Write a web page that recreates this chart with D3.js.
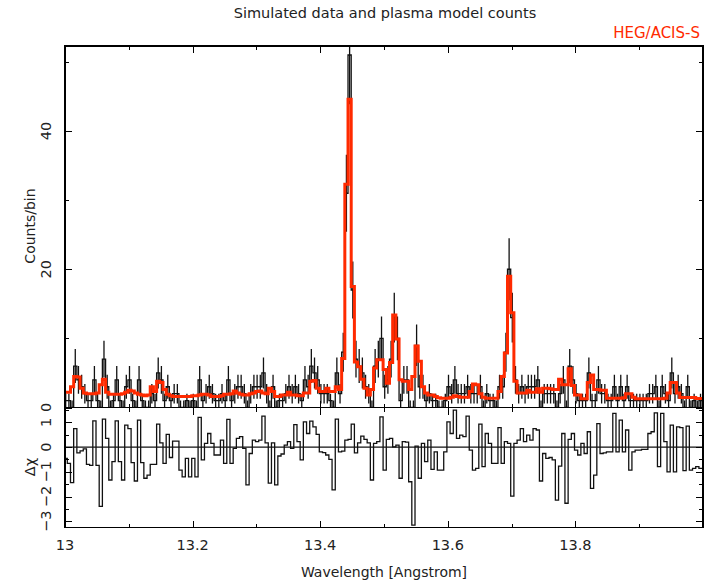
<!DOCTYPE html>
<html lang="en">
<head>
<meta charset="UTF-8">
<title>Simulated data and plasma model counts</title>
<script src="https://cdnjs.cloudflare.com/ajax/libs/d3/7.8.5/d3.min.js"></script>
<style>
  body { margin: 0; background: #fff; }
  svg text { font-family: "DejaVu Sans", sans-serif; fill: #222; }
  .tick line, .frame { stroke: #000; shape-rendering: crispEdges; }
</style>
</head>
<body>
<svg width="710" height="583"></svg>
<script>
// HEG bins: 0.005 A wide, first bin starts just left of 13.0
const binStart = 12.9986, binWidth = 0.005;

// counts per bin (data)
const counts = [
  1, 1, 0, 6, 4, 3, 2, 1, 1, 4,
  1, 0, 7, 3, 0, 1, 4, 1, 0, 3,
  4, 1, 0, 4, 1, 0, 0, 2, 1, 5,
  4, 1, 3, 1, 2, 2, 0, 0, 1, 0,
  1, 0, 4, 1, 2, 3, 2, 1, 1, 2,
  1, 4, 1, 2, 3, 3, 2, 0, 2, 3,
  3, 3, 5, 2, 0, 3, 0, 1, 1, 2,
  3, 2, 3, 2, 1, 4, 3, 6, 5, 4,
  2, 2, 2, 1, 0, 5, 2, 8, 31, 51,
  17, 7, 6, 5, 3, 2, 0, 6, 7, 10,
  3, 4, 7, 13, 10, 1, 4, 4, 0, 0,
  9, 3, 3, 1, 2, 1, 1, 0, 0, 1,
  3, 2, 4, 2, 2, 2, 3, 2, 2, 2,
  3, 0, 2, 1, 1, 0, 3, 3, 8, 20,
  13, 4, 2, 3, 2, 3, 3, 3, 4, 0,
  2, 2, 2, 2, 0, 2, 4, 0, 6, 4,
  2, 1, 1, 1, 5, 1, 1, 4, 2, 2,
  1, 1, 3, 1, 3, 1, 3, 1, 1, 1,
  1, 1, 1, 2, 2, 3, 0, 3, 2, 1,
  5, 2, 3, 2, 0, 3, 0, 1, 0, 1,
  0
];

// plasma model counts per bin
const model = [
  2.2, 2.2, 3.0, 4.5, 4.4, 2.8, 2.1, 2.0, 2.0, 2.0,
  2.1, 3.3, 4.1, 2.2, 1.9, 1.9, 1.9, 1.9, 2.0, 2.2,
  2.5, 2.4, 2.1, 1.9, 1.8, 1.7, 1.8, 3.0, 2.3, 3.8,
  3.6, 2.6, 1.9, 1.7, 1.6, 1.6, 1.6, 1.6, 1.6, 1.6,
  1.7, 1.7, 1.8, 1.9, 1.9, 1.8, 1.6, 1.6, 1.6, 1.7,
  1.9, 1.9, 2.0, 2.4, 2.1, 1.9, 1.8, 1.8, 2.0, 2.1,
  2.3, 2.4, 2.1, 2.0, 2.8, 2.3, 1.6, 1.6, 1.8, 1.8,
  2.2, 1.8, 1.8, 1.7, 1.7, 2.1, 2.1, 3.8, 3.9, 2.8,
  2.3, 2.3, 2.8, 2.3, 2.3, 3.0, 2.6, 7.1, 32.3, 44.6,
  17.5, 6.6, 5.9, 4.1, 2.8, 1.8, 2.6, 5.7, 6.9, 6.9,
  5.5, 3.5, 6.5, 13.4, 9.9, 4.0, 3.8, 3.8, 2.6, 4.5,
  8.9, 6.7, 3.0, 2.1, 1.8, 1.8, 1.6, 1.4, 1.35, 1.35,
  1.35, 1.5, 1.7, 1.6, 1.5, 1.5, 1.5, 2.3, 3.4, 3.3,
  2.0, 1.5, 1.35, 1.35, 1.35, 1.35, 2.3, 4.5, 7.9, 19.0,
  13.7, 3.8, 2.1, 2.1, 2.1, 2.5, 2.2, 2.2, 2.7, 2.2,
  2.8, 2.8, 2.7, 2.6, 2.6, 4.1, 3.3, 3.3, 5.6, 3.2,
  1.8, 1.8, 1.25, 1.25, 3.6, 4.7, 2.6, 2.6, 2.5, 2.5,
  1.35, 1.35, 1.35, 1.35, 1.35, 1.4, 2.0, 2.0, 1.5, 1.25,
  1.25, 1.25, 1.25, 1.25, 1.25, 1.25, 1.25, 1.25, 1.35, 2.1,
  3.6, 3.6, 2.1, 1.45, 1.45, 1.45, 1.45, 1.45, 1.3, 1.3,
  1.3
];

// residuals (delta chi)
const resid = [
  -0.46, -0.66, -1.44, 0.75, -0.23, -0.15, -0.07, -0.70, -0.74, 1.06,
  -0.74, -2.4, 1.13, 0.35, -1.33, -0.59, 1.06, -0.59, -1.33, 0.89,
  0.75, -0.63, -1.37, 1.09, -0.63, -1.26, -1.13, -0.70, -0.70, 0.93,
  0.17, -0.66, 0.51, -0.42, 0.24, 0.24, -0.93, -1.2, -0.46, -1.2,
  -0.46, -1.2, 1.2, -0.52, 0.15, 0.55, 0.15, -0.32, -0.32, 0.28,
  -0.66, 1.12, -0.66, -0.05, 0.35, 0.42, -0.05, -1.53, -0.26, 0.28,
  0.22, 0.28, 1.25, 0.17, -1.46, 0.17, -1.53, -0.36, -0.28, 0.08,
  0.22, -0.05, 0.91, 0.22, -0.52, 1.02, 0.55, 1.05, 0.82, 0.51,
  -0.19, -0.22, -0.32, -0.5, -1.73, 1.13, -0.19, -0.16, 0.28, 0.31,
  0.93, -0.23, 0.17, 0.44, 0.31, 0.17, -1.33, 0.15, 0.22, 1.22,
  -0.93, 0.31, 0.35, 0.01, 0.08, -1.26, 0.22, 0.2, -1.4, -3.15,
  0.04, -1.26, 0.15, -0.59, 0.28, -0.9, -0.19, -0.93, -0.93, -0.19,
  1.02, 0.55, 1.49, 0.35, 0.48, 0.42, 1.25, -0.12, -0.93, -0.86,
  0.93, -0.79, 0.55, 0.15, -0.66, -0.66, 0.79, -0.66, 0.22, 0.15,
  -1.98, 0.15, 0.28, 0.75, 0.22, 0.48, 0.28, 0.75, 0.69, -1.37,
  -0.26, -0.46, -0.42, -0.52, -2.14, -0.77, 0.55, -2.27, 0.31, 0.55,
  -0.12, -0.32, 0.15, -0.26, 0.62, -1.67, -1.13, 0.95, -0.26, -0.23,
  -0.19, -0.19, 1.36, -0.19, 1.09, -0.19, 0.69, -0.93, -0.19, -0.12,
  -0.12, -0.09, -0.09, 0.55, 0.62, 1.38, -0.79, 1.36, 0.22, -1.0,
  0.89, -1.0, 0.82, 0.79, -0.95, 0.85, -0.93, -0.86, -0.79, -0.86,
  -0.86
];

const xMajor = [13, 13.2, 13.4, 13.6, 13.8, 14];
const xMinor = [13.1, 13.3, 13.5, 13.7, 13.9];
const countMajor = [0, 20, 40];
const countMinor = [10, 30, 50];
const residMajor = [1, 0, -1, -2, -3];
const residMinor = [1.5, 0.5, -0.5, -1.5, -2.5];

const svg = d3.select("svg");
const pLeft = 65, pRight = 703, pTop = 46, pMid = 407.5, pBottom = 527.5;
const red = "#ff2a00";

const x = d3.scaleLinear().domain([13, 14]).range([pLeft, pRight]);
const yTop = d3.scaleLinear().domain([0, 52.3]).range([pMid, pTop]);
const yBot = d3.scaleLinear().domain([-3.25, 1.6]).range([pBottom, pMid]);

const lo = i => binStart + i * binWidth;

// clip paths for the two panels
const defs = svg.append("defs");
defs.append("clipPath").attr("id", "clipTop").append("rect")
    .attr("x", pLeft).attr("y", pTop).attr("width", pRight - pLeft).attr("height", pMid - pTop);
defs.append("clipPath").attr("id", "clipBot").append("rect")
    .attr("x", pLeft).attr("y", pMid).attr("width", pRight - pLeft).attr("height", pBottom - pMid);

// histogram outline points (both edges of every bin)
function steps(vals) {
    const pts = [];
    vals.forEach((v, i) => { pts.push([lo(i), v]); pts.push([lo(i + 1), v]); });
    return pts;
}

const gTop = svg.append("g").attr("clip-path", "url(#clipTop)");
const lineTop = d3.line().x(d => x(d[0])).y(d => yTop(d[1]));

// error bars
gTop.selectAll(".err")
    .data(counts)
    .enter().append("line")
    .attr("x1", (d, i) => x(lo(i) + binWidth / 2))
    .attr("x2", (d, i) => x(lo(i) + binWidth / 2))
    .attr("y1", d => yTop(Math.max(0, d - Math.max(Math.sqrt(d), 1))))
    .attr("y2", d => yTop(d + Math.max(Math.sqrt(d), 1)))
    .attr("stroke", "#111")
    .attr("stroke-width", 1.3);

gTop.append("path")
    .attr("d", lineTop(steps(counts)))
    .attr("fill", "none")
    .attr("stroke", "#111")
    .attr("stroke-width", 1.3);

gTop.append("path")
    .attr("d", lineTop(steps(model)))
    .attr("fill", "none")
    .attr("stroke", red)
    .attr("stroke-width", 3)
    .attr("stroke-linejoin", "miter");

// residual panel
const gBot = svg.append("g").attr("clip-path", "url(#clipBot)");
gBot.append("line")
    .attr("x1", pLeft).attr("x2", pRight)
    .attr("y1", yBot(0)).attr("y2", yBot(0))
    .attr("stroke", "#111").attr("stroke-width", 1.3);
gBot.append("path")
    .attr("d", d3.line().x(d => x(d[0])).y(d => yBot(d[1]))(steps(resid)))
    .attr("fill", "none")
    .attr("stroke", "#111")
    .attr("stroke-width", 1.3);

// ticks on every side of both panels (pointing inward)
function ticks(axis, vals, size, tx, ty) {
    svg.append("g")
        .attr("transform", "translate(" + tx + "," + ty + ")")
        .call(axis.tickValues(vals).tickSize(-size).tickSizeOuter(0).tickFormat(""))
        .call(g => g.select(".domain").remove());
}
[[d3.axisTop, pTop], [d3.axisBottom, pMid], [d3.axisTop, pMid], [d3.axisBottom, pBottom]]
    .forEach(([a, yy]) => {
        ticks(a(x), xMajor, 7, 0, yy);
        ticks(a(x), xMinor, 4, 0, yy);
    });
[[d3.axisLeft, pLeft], [d3.axisRight, pRight]].forEach(([a, xx]) => {
    ticks(a(yTop), countMajor, 7, xx, 0);
    ticks(a(yTop), countMinor, 4, xx, 0);
    ticks(a(yBot), residMajor, 7, xx, 0);
    ticks(a(yBot), residMinor, 4, xx, 0);
});

// frames
svg.append("rect").attr("class", "frame")
    .attr("x", pLeft).attr("y", pTop).attr("width", pRight - pLeft).attr("height", pBottom - pTop)
    .attr("fill", "none").attr("stroke-width", 1.3);
svg.append("line").attr("class", "frame")
    .attr("x1", pLeft).attr("x2", pRight).attr("y1", pMid).attr("y2", pMid)
    .attr("stroke-width", 1.3);

// tick labels
svg.selectAll(".xlab")
    .data(xMajor.slice(0, 5))
    .enter().append("text")
    .attr("x", d => x(d)).attr("y", 545)
    .attr("text-anchor", "middle").attr("dominant-baseline", "central")
    .style("font-size", "14.5px")
    .text(d => d);

const ylabs = countMajor.map(v => [v, yTop(v)])
    .concat(residMajor.map(v => [v, yBot(v)]));
svg.selectAll(".ylab")
    .data(ylabs)
    .enter().append("text")
    .attr("transform", d => "translate(46," + d[1] + ") rotate(-90)")
    .attr("text-anchor", "middle").attr("dominant-baseline", "central")
    .style("font-size", "14.5px")
    .text(d => d[0] < 0 ? "\u2212" + Math.abs(d[0]) : d[0]);

// titles
svg.append("text").attr("x", 385).attr("y", 13)
    .attr("text-anchor", "middle").attr("dominant-baseline", "central")
    .style("font-size", "14.5px").text("Simulated data and plasma model counts");
svg.append("text").attr("x", 700).attr("y", 33)
    .attr("text-anchor", "end").attr("dominant-baseline", "central")
    .style("font-size", "15px").style("fill", red).text("HEG/ACIS-S");
svg.append("text").attr("x", 384).attr("y", 572)
    .attr("text-anchor", "middle").attr("dominant-baseline", "central")
    .style("font-size", "14px").text("Wavelength [Angstrom]");
svg.append("text").attr("transform", "translate(30,226) rotate(-90)")
    .attr("text-anchor", "middle").attr("dominant-baseline", "central")
    .style("font-size", "14px").text("Counts/bin");
svg.append("text").attr("transform", "translate(30,467) rotate(-90)")
    .attr("text-anchor", "middle").attr("dominant-baseline", "central")
    .style("font-size", "14.5px").text("\u0394\u03c7");
</script>
</body>
</html>
